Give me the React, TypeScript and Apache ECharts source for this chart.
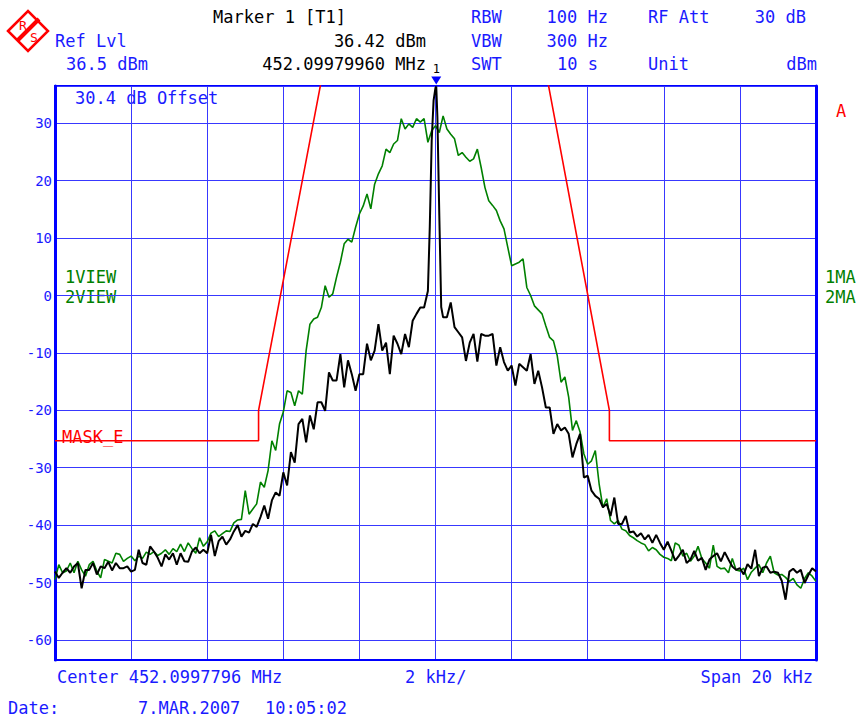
import React, { useEffect, useRef } from "react";
import * as echarts from "echarts";

// Sweep points: frequency offset from center, kHz (0.1 kHz steps)
const freqKHz: number[] = Array.from({ length: 201 }, (_, i) => Math.round((-10 + i * 0.1) * 10) / 10);

// Trace 2 (green, max hold) in dBm
const greenLevel: number[] = [
  -49.5, -46.9, -48.3, -48.0, -46.6, -48.3, -46.3, -47.8, -48.9, -46.9,
  -46.3, -48.0, -49.2, -46.0, -46.3, -46.6, -44.9, -45.1, -46.3, -45.8,
  -45.4, -46.2, -45.4, -45.8, -44.7, -45.1, -44.6, -45.3, -44.9, -44.3,
  -45.1, -44.1, -44.6, -43.3, -44.6, -43.1, -44.1, -44.9, -42.2, -43.7,
  -42.9, -41.4, -41.0, -42.0, -41.5, -41.0, -41.1, -39.6, -39.1, -39.0,
  -34.0, -38.1, -37.2, -36.3, -32.5, -33.4, -30.5, -25.3, -27.0, -22.4,
  -20.3, -16.6, -16.9, -19.2, -16.6, -17.2, -9.6, -5.0, -4.1, -3.8,
  -2.1, 1.7, -0.3, 0.3, 3.2, 5.8, 9.0, 9.8, 9.3, 11.9,
  14.2, 15.6, 17.7, 15.1, 19.4, 21.2, 22.6, 25.5, 24.9, 26.4,
  27.0, 30.8, 29.0, 29.9, 29.3, 30.8, 30.2, 30.8, 26.7, 28.7,
  29.6, 28.4, 31.3, 29.0, 28.1, 27.3, 24.4, 24.9, 24.1, 23.4,
  23.8, 25.5, 22.3, 18.8, 16.5, 15.7, 14.8, 13.0, 11.6, 8.4,
  5.2, 5.5, 5.8, 6.4, 1.4, 0.0, -1.8, -2.5, -3.2, -5.3,
  -7.3, -7.9, -10.5, -15.1, -14.2, -17.7, -23.5, -21.8, -23.8, -27.6,
  -29.4, -28.8, -27.0, -32.8, -36.9, -35.4, -39.2, -39.8, -39.2, -40.7,
  -41.0, -41.8, -42.2, -42.7, -43.1, -43.4, -44.5, -43.9, -44.3, -45.1,
  -45.6, -45.8, -46.2, -43.1, -43.5, -45.4, -44.9, -46.3, -45.4, -43.7,
  -45.8, -46.6, -47.5, -43.5, -47.2, -47.6, -47.5, -48.3, -45.8, -47.8,
  -48.0, -47.5, -49.5, -48.2, -47.5, -46.9, -48.3, -46.6, -45.4, -48.3,
  -48.7, -48.6, -49.1, -49.8, -49.3, -50.4, -51.0, -49.3, -48.3, -48.9,
  -49.8,
];

// Trace 1 (black, clear/write) in dBm
const blackLevel: number[] = [
  -48.1, -49.2, -48.3, -47.5, -48.3, -47.2, -46.6, -51.0, -47.8, -47.8,
  -46.6, -48.6, -47.2, -47.5, -46.4, -47.9, -46.6, -47.5, -47.5, -47.2,
  -48.1, -47.8, -44.3, -46.6, -46.9, -43.7, -44.6, -45.7, -47.2, -45.1,
  -46.0, -44.9, -46.9, -44.9, -46.3, -46.4, -44.6, -43.9, -44.9, -44.3,
  -44.9, -41.7, -45.4, -42.8, -42.0, -43.4, -42.5, -41.1, -40.0, -42.0,
  -41.0, -41.3, -39.8, -40.3, -38.6, -36.6, -38.9, -35.7, -34.3, -34.9,
  -30.8, -33.1, -27.3, -29.1, -22.4, -21.5, -25.6, -20.9, -23.3, -18.6,
  -18.6, -20.1, -13.4, -14.8, -14.8, -10.2, -16.0, -11.3, -13.7, -16.6,
  -13.7, -13.7, -8.4, -11.3, -9.6, -5.0, -9.6, -8.2, -13.7, -7.0,
  -8.4, -10.2, -6.7, -9.0, -4.4, -3.2, -2.1, -2.1, 0.8, 27.0,
  36.2, 14.0, -3.8, -3.8, -1.2, -5.5, -6.4, -7.3, -11.4, -8.2,
  -6.7, -11.5, -6.7, -7.0, -7.0, -6.7, -12.2, -9.0, -11.6, -13.1,
  -12.2, -15.7, -11.9, -12.5, -13.1, -10.2, -15.4, -13.1, -16.0, -19.5,
  -19.5, -24.1, -22.4, -23.5, -23.0, -24.1, -28.2, -25.9, -24.1, -31.7,
  -31.4, -34.0, -34.9, -35.4, -36.9, -36.3, -38.4, -35.2, -39.8, -39.8,
  -38.4, -41.3, -41.1, -42.0, -41.4, -42.5, -41.7, -43.1, -41.7, -43.1,
  -44.3, -42.9, -44.5, -46.2, -45.3, -44.3, -46.6, -46.0, -44.5, -46.2,
  -45.7, -47.8, -46.0, -45.4, -44.9, -46.3, -44.7, -46.0, -47.2, -47.8,
  -47.5, -48.6, -46.8, -47.6, -44.3, -48.9, -47.4, -47.2, -48.3, -48.1,
  -48.3, -49.7, -53.0, -48.1, -47.6, -48.3, -47.8, -50.1, -48.7, -47.5,
  -48.1,
];

// Extra points around the carrier (trace 1)
const carrierFreq: number[] = [-0.15, -0.05, 0.02, 0.05, 0.15];
const carrierLevel: number[] = [12.0, 34.0, 36.42, 31.0, -2.0];

// Limit line MASK_E
const maskFreq: number[] = [-10, -4.65, -4.65, -2.74, 2.69, 4.57, 4.57, 10];
const maskLevel: number[] = [-25.3, -25.3, -20, 46.5, 46.5, -20, -25.3, -25.3];

// Marker 1
const markerFreq = 0.02;
const markerLevel = 36.42;

// Axis settings
const refLevel = 36.5;
const bottomLevel = -63.5;
const spanMin = -10;
const spanMax = 10;
const freqDiv = 2;

const BLUE = "#1a1aff";
const GRID = "#3838ff";
const GREEN = "#008000";
const FONT = "'DejaVu Sans Mono', 'Liberation Mono', monospace";

function txt(text: string, x: number, y: number, fill: string, align = "left", size = 17) {
  return {
    type: "text",
    x,
    y,
    silent: true,
    style: {
      text,
      fill,
      font: `${size}px ${FONT}`,
      textAlign: align,
      textVerticalAlign: "middle",
    },
  };
}

export default function App() {
  const ref = useRef<HTMLDivElement>(null);
  useEffect(() => {
    if (!ref.current) return;
    const chart = echarts.init(ref.current, undefined, { renderer: "svg" });

    const greenData = freqKHz.map((f, i) => [f, greenLevel[i]]);
    const blackData = freqKHz
      .map((f, i) => [f, blackLevel[i]])
      .concat(carrierFreq.map((f, i) => [f, carrierLevel[i]]))
      .sort((a, b) => a[0] - b[0]);
    const maskData = maskFreq.map((f, i) => [f, maskLevel[i]]);

    chart.setOption({
      animation: false,
      backgroundColor: "#ffffff",
      grid: {
        left: 55,
        right: 40,
        top: 86,
        bottom: 57,
        show: true,
        borderColor: "#0000ff",
        borderWidth: 2,
        backgroundColor: "transparent",
      },
      xAxis: {
        type: "value",
        min: spanMin,
        max: spanMax,
        interval: freqDiv,
        axisLine: { show: true, onZero: false, lineStyle: { color: "#0000ff", width: 2 } },
        axisTick: { show: false },
        axisLabel: { show: false },
        splitLine: { show: true, lineStyle: { color: GRID, width: 1 } },
      },
      yAxis: [
        {
          type: "value",
          min: bottomLevel,
          max: refLevel,
          splitNumber: 10,
          position: "left",
          axisLine: { show: true, onZero: false, lineStyle: { color: "#0000ff", width: 3 } },
          axisTick: { show: false },
          axisLabel: {
            color: BLUE,
            fontFamily: FONT,
            fontSize: 14,
            margin: 3,
            showMinLabel: false,
            showMaxLabel: false,
          },
          splitLine: { show: true, lineStyle: { color: GRID, width: 1 } },
        },
        {
          type: "value",
          min: bottomLevel,
          max: refLevel,
          position: "right",
          axisLine: { show: true, onZero: false, lineStyle: { color: "#0000ff", width: 3 } },
          axisTick: { show: false },
          axisLabel: { show: false },
          splitLine: { show: false },
        },
      ],
      series: [
        {
          name: "2VIEW",
          type: "line",
          data: greenData,
          showSymbol: false,
          clip: true,
          lineStyle: { color: GREEN, width: 1.6 },
          z: 2,
        },
        {
          name: "1VIEW",
          type: "line",
          data: blackData,
          showSymbol: false,
          clip: true,
          lineStyle: { color: "#000000", width: 2 },
          z: 3,
          markPoint: {
            symbol: "triangle",
            symbolSize: [10, 8],
            symbolRotate: 180,
            symbolOffset: [0, -6],
            itemStyle: { color: "#0000ff" },
            label: {
              show: true,
              position: "top",
              distance: 1,
              formatter: "1",
              color: "#000000",
              fontFamily: FONT,
              fontSize: 12,
            },
            data: [{ coord: [markerFreq, markerLevel] }],
          },
        },
        {
          name: "MASK_E",
          type: "line",
          data: maskData,
          showSymbol: false,
          clip: true,
          lineStyle: { color: "#ff0000", width: 1.6 },
          z: 4,
        },
      ],
      graphic: [
        // R&S logo
        {
          type: "polygon",
          silent: true,
          shape: { points: [[8, 31], [28, 11], [48, 31], [28, 51]] },
          style: { fill: "#ffffff", stroke: "#ff0000", lineWidth: 2.5 },
        },
        {
          type: "line",
          silent: true,
          shape: { x1: 18, y1: 40, x2: 39, y2: 19 },
          style: { stroke: "#ff0000", lineWidth: 4 },
        },
        txt("R", 23, 25, "#ff0000", "center", 13),
        txt("S", 34, 37, "#ff0000", "center", 13),
        // header
        txt("Marker 1 [T1]", 213, 17, "#000000"),
        txt("RBW", 471, 17, BLUE),
        txt("100 Hz", 608, 17, BLUE, "right"),
        txt("RF Att", 648, 17, BLUE),
        txt("30 dB", 806, 17, BLUE, "right"),
        txt("Ref Lvl", 55, 41, BLUE),
        txt("36.42 dBm", 426, 41, "#000000", "right"),
        txt("VBW", 471, 41, BLUE),
        txt("300 Hz", 608, 41, BLUE, "right"),
        txt("36.5 dBm", 66, 64, BLUE),
        txt("452.09979960 MHz", 426, 64, "#000000", "right"),
        txt("SWT", 471, 64, BLUE),
        txt("10 s", 598, 64, BLUE, "right"),
        txt("Unit", 648, 64, BLUE),
        txt("dBm", 817, 64, BLUE, "right"),
        // inside plot
        txt("30.4 dB Offset", 75, 98, BLUE),
        txt("1VIEW", 65, 277, GREEN),
        txt("2VIEW", 65, 297, GREEN),
        txt("MASK_E", 62, 437, "#ff0000"),
        // right side
        txt("A", 836, 111, "#ff0000"),
        txt("1MA", 825, 277, GREEN),
        txt("2MA", 825, 297, GREEN),
        // footer
        txt("Center 452.0997796 MHz", 57, 677, BLUE),
        txt("2 kHz/", 405, 677, BLUE),
        txt("Span 20 kHz", 813, 677, BLUE, "right"),
        txt("Date:", 8, 708, BLUE),
        txt("7.MAR.2007", 138, 708, BLUE),
        txt("10:05:02", 265, 708, BLUE),
      ],
    });
    return () => chart.dispose();
  }, []);

  return (
    <div
      ref={ref}
      style={{ position: "fixed", left: 0, top: 0, width: 856, height: 717, background: "#fff" }}
    />
  );
}
